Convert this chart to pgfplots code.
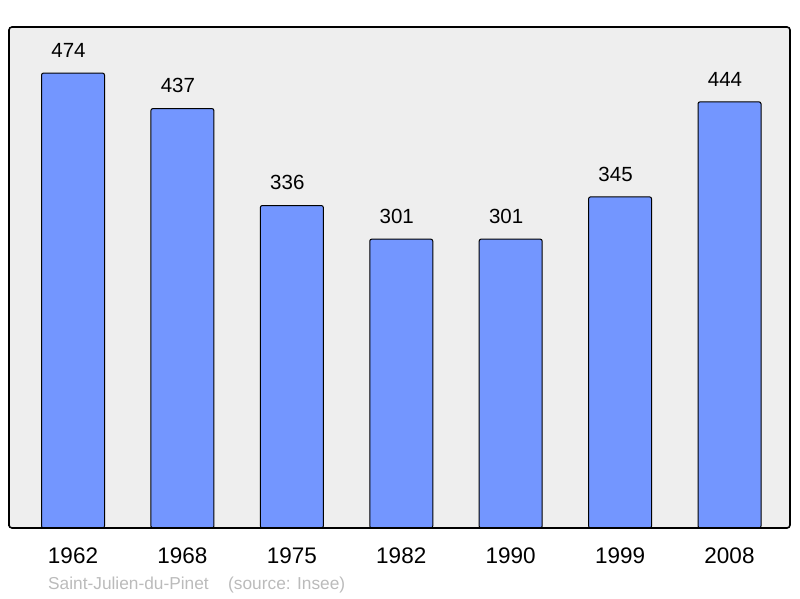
\documentclass[border=0pt]{standalone}
\usepackage{pgfplots}
\pgfplotsset{compat=1.18}
\usepackage{fontspec}
\setmainfont{Liberation Sans}
\definecolor{bgc}{HTML}{EEEEEE}
\definecolor{barc}{HTML}{7396FF}
\definecolor{srcc}{HTML}{BBBBBB}
\begin{document}
\begin{tikzpicture}[x=1pt,y=1pt]
\path (0,0) rectangle (800,598);
\begin{axis}[
  at={(9pt,70pt)}, anchor=south west,
  scale only axis, width=781pt, height=501pt,
  xmin=-0.585, xmax=6.553, ymin=0, ymax=522,
  axis background/.style={fill=bgc},
  axis line style={line width=1.6pt, rounded corners=3pt},
  axis on top,
  ytick=\empty,
  xtick={0,1,2,3,4,5,6},
  xticklabels={1962,1968,1975,1982,1990,1999,2008},
  major tick length=0pt,
  xticklabel style={font=\fontsize{22.5}{25}\selectfont, anchor=north, inner sep=0pt, yshift=-20pt},
  /pgf/number format/assume math mode=true,
  ybar, bar width=63pt,
  nodes near coords,
  nodes near coords style={font=\fontsize{20.5}{23}\selectfont, anchor=south, inner sep=0pt, yshift=15pt, xshift=-4.5pt},
]
\addplot[fill=barc, draw=black, line width=1pt, rounded corners=2pt] coordinates {
  (0,474) (1,437) (2,336) (3,301) (4,301) (5,345) (6,444)
};
\end{axis}
\node[anchor=base west, inner sep=0pt, text=srcc, font=\fontsize{17.3}{19}\selectfont] at (48,9) {Saint-Julien-du-Pinet};
\node[anchor=base west, inner sep=0pt, text=srcc, font=\fontsize{17.3}{19}\selectfont] at (228,9) {(source: Insee)};
\end{tikzpicture}
\end{document}
